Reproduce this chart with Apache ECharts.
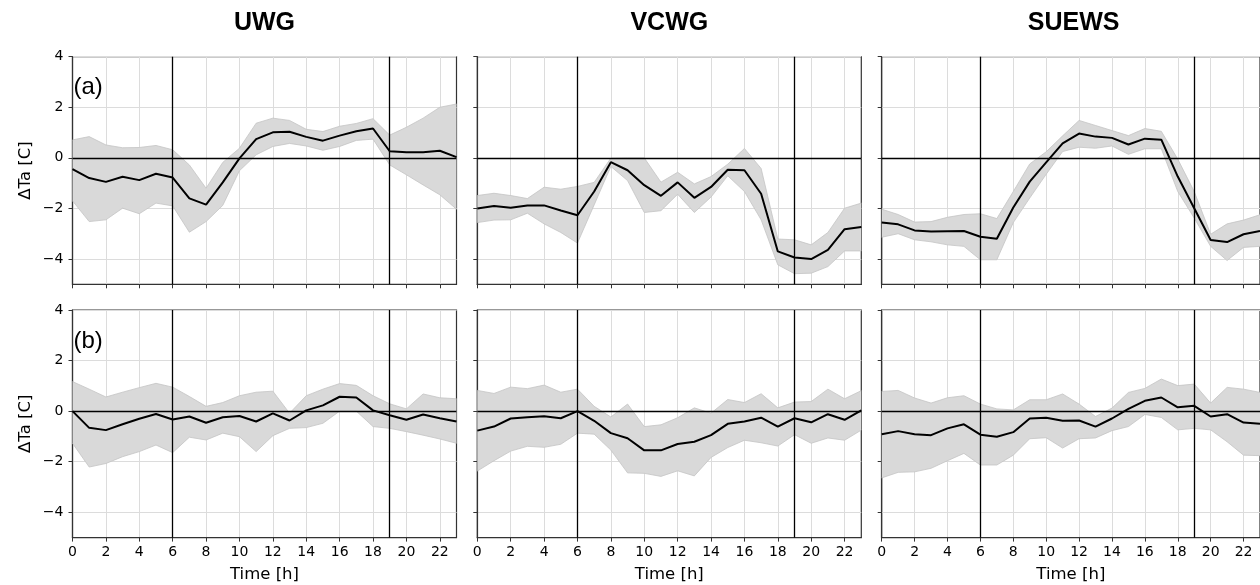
<!DOCTYPE html>
<html>
<head>
<meta charset="utf-8">
<title>ΔTa diurnal cycle</title>
<script src="https://cdn.jsdelivr.net/npm/echarts@6/dist/echarts.min.js"></script>
<style>
  html, body { margin: 0; padding: 0; background: #fff; }
  #chart { width: 1260px; height: 585px; }
</style>
</head>
<body>
<div id="chart"></div>
<script>
// hours of the day
const hours = ['0','1','2','3','4','5','6','7','8','9','10','11','12','13','14','15','16','17','18','19','20','21','22','23']
const models = ['UWG', 'VCWG', 'SUEWS']
const rowTags = ['(a)', '(b)']
const yTicks = [-4, -2, 0, 2, 4]
const sunrise = '6'
const sunset = '19'

// row (a)
const uwgA_mid = [-0.45,-0.80,-0.95,-0.75,-0.88,-0.63,-0.78,-1.60,-1.85,-0.97,-0.02,0.74,1.01,1.03,0.83,0.68,0.88,1.05,1.16,0.26,0.22,0.22,0.28,0.03]
const uwgA_low = [-1.70,-2.52,-2.45,-1.99,-2.21,-1.79,-1.90,-2.94,-2.52,-1.88,-0.51,0.12,0.45,0.57,0.47,0.30,0.45,0.69,0.74,-0.28,-0.67,-1.07,-1.46,-2.03]
const uwgA_high = [0.71,0.84,0.51,0.40,0.41,0.49,0.32,-0.28,-1.20,-0.18,0.38,1.37,1.57,1.48,1.13,1.04,1.25,1.36,1.55,0.90,1.21,1.57,2.00,2.13]

const vcwgA_mid = [-2.00,-1.90,-1.97,-1.88,-1.88,-2.08,-2.27,-1.33,-0.17,-0.49,-1.08,-1.50,-0.97,-1.58,-1.15,-0.47,-0.49,-1.42,-3.70,-3.94,-4.00,-3.64,-2.82,-2.73]
const vcwgA_low = [-2.56,-2.46,-2.45,-2.19,-2.61,-2.95,-3.37,-1.86,-0.34,-0.90,-2.16,-2.09,-1.44,-2.16,-1.55,-0.71,-1.33,-2.45,-4.23,-4.58,-4.56,-4.30,-3.68,-3.68]
const vcwgA_high = [-1.49,-1.40,-1.49,-1.61,-1.16,-1.24,-1.13,-0.97,-0.01,0.00,0.00,-0.96,-0.57,-1.03,-0.74,-0.25,0.37,-0.42,-3.21,-3.24,-3.44,-2.95,-1.99,-1.79]

const suewsA_mid = [-2.56,-2.63,-2.87,-2.91,-2.90,-2.89,-3.12,-3.20,-1.96,-0.94,-0.18,0.57,0.96,0.84,0.79,0.53,0.76,0.72,-0.74,-1.99,-3.25,-3.33,-3.02,-2.89]
const suewsA_low = [-3.14,-3.00,-3.24,-3.32,-3.44,-3.50,-4.03,-4.03,-2.56,-1.59,-0.65,0.25,0.42,0.38,0.47,0.14,0.36,0.36,-1.33,-2.38,-3.50,-4.06,-3.54,-3.50]
const suewsA_high = [-2.03,-2.24,-2.54,-2.52,-2.35,-2.24,-2.21,-2.40,-1.33,-0.24,0.24,0.87,1.48,1.28,1.08,0.88,1.16,1.05,-0.05,-1.33,-3.02,-2.61,-2.46,-2.25]

// row (b)
const uwgB_mid = [0.00,-0.66,-0.75,-0.52,-0.30,-0.11,-0.33,-0.21,-0.46,-0.24,-0.19,-0.41,-0.09,-0.37,0.03,0.23,0.57,0.54,0.03,-0.16,-0.34,-0.13,-0.28,-0.41]
const uwgB_low = [-1.27,-2.21,-2.07,-1.80,-1.60,-1.34,-1.64,-1.03,-1.14,-0.87,-1.01,-1.60,-0.97,-0.68,-0.65,-0.48,0.00,0.00,-0.61,-0.68,-0.81,-0.95,-1.10,-1.27]
const uwgB_high = [1.17,0.87,0.56,0.75,0.93,1.10,0.95,0.58,0.19,0.34,0.61,0.75,0.79,-0.08,0.61,0.87,1.09,1.02,0.61,0.29,0.09,0.68,0.53,0.49]

const vcwgB_mid = [-0.77,-0.61,-0.29,-0.24,-0.20,-0.28,0.00,-0.38,-0.87,-1.07,-1.55,-1.55,-1.30,-1.21,-0.95,-0.50,-0.41,-0.26,-0.61,-0.28,-0.44,-0.12,-0.34,0.03]
const vcwgB_low = [-2.37,-1.96,-1.58,-1.39,-1.43,-1.31,-0.87,-0.91,-1.54,-2.44,-2.46,-2.58,-2.36,-2.56,-1.83,-1.44,-1.15,-1.25,-1.38,-0.93,-1.27,-1.06,-1.15,-0.75]
const vcwgB_high = [0.82,0.70,0.95,0.89,1.03,0.75,0.87,0.19,-0.23,0.28,-0.61,-0.54,-0.26,0.13,-0.08,0.46,0.34,0.69,0.13,0.36,0.38,0.87,0.49,0.81]

const suewsB_mid = [-0.91,-0.79,-0.91,-0.95,-0.68,-0.52,-0.93,-1.01,-0.83,-0.29,-0.26,-0.38,-0.37,-0.61,-0.29,0.09,0.41,0.54,0.15,0.21,-0.21,-0.12,-0.45,-0.50]
const suewsB_low = [-2.64,-2.42,-2.40,-2.26,-1.96,-1.67,-2.13,-2.13,-1.74,-1.09,-1.05,-1.46,-1.09,-1.06,-0.77,-0.61,-0.13,-0.25,-0.74,-0.68,-0.74,-1.21,-1.74,-1.76]
const suewsB_high = [0.78,0.82,0.52,0.32,0.53,0.61,0.28,0.09,0.05,0.45,0.45,0.68,0.28,-0.21,0.12,0.74,0.90,1.27,1.01,1.07,0.32,0.94,0.87,0.74]

// panels in row-major order
const panels = [
  { mid: uwgA_mid, low: uwgA_low, high: uwgA_high },
  { mid: vcwgA_mid, low: vcwgA_low, high: vcwgA_high },
  { mid: suewsA_mid, low: suewsA_low, high: suewsA_high },
  { mid: uwgB_mid, low: uwgB_low, high: uwgB_high },
  { mid: vcwgB_mid, low: vcwgB_low, high: vcwgB_high },
  { mid: suewsB_mid, low: suewsB_low, high: suewsB_high }
]

const colLeft = [72.5, 477.3, 881.7]
const panelW = 384
const rowTop = [56.7, 310]
const panelH = 227.6

const tickFont = 'DejaVu Sans'
const axisColor = '#333'

const grids = []
const xAxes = []
const yAxes = []
const series = []

panels.forEach((p, i) => {
  const row = Math.floor(i / 3)
  const col = i % 3
  grids.push({
    left: colLeft[col], top: rowTop[row], width: panelW, height: panelH,
    show: true, borderColor: axisColor, borderWidth: 1.2, backgroundColor: 'transparent'
  })
  xAxes.push({
    type: 'category', gridIndex: i, data: hours, boundaryGap: false,
    name: row === 1 ? 'Time [h]' : '',
    nameLocation: 'middle', nameGap: 29,
    nameTextStyle: { fontFamily: tickFont, fontSize: 16.5, color: '#000' },
    axisLine: { show: true, onZero: false, lineStyle: { color: axisColor, width: 1.2 } },
    axisTick: { show: true, length: 4, interval: 1, alignWithLabel: true, lineStyle: { color: axisColor, width: 1 } },
    axisLabel: { show: row === 1, interval: 1, margin: 8, fontFamily: tickFont, fontSize: 14, color: '#000' },
    splitLine: { show: true, interval: 1, lineStyle: { color: '#dcdcdc', width: 1 } }
  })
  yAxes.push({
    type: 'value', gridIndex: i, min: -5, max: 4,
    name: col === 0 ? 'ΔTa [C]' : '',
    nameLocation: 'middle', nameGap: 38,
    nameTextStyle: { fontFamily: tickFont, fontSize: 16.5, color: '#000' },
    axisLine: { show: true, onZero: false, lineStyle: { color: axisColor, width: 1.2 } },
    axisTick: { show: true, length: 4, customValues: yTicks, lineStyle: { color: axisColor, width: 1 } },
    axisLabel: {
      show: col === 0, customValues: yTicks, margin: 9, fontFamily: tickFont, fontSize: 14, color: '#000',
      formatter: v => (v < 0 ? '\u2212' + Math.abs(v) : String(v))
    },
    splitLine: { show: true, lineStyle: { color: '#dcdcdc', width: 1 } }
  })

  const stackId = 'band' + i
  // lower edge of the spread band
  series.push({
    type: 'line', xAxisIndex: i, yAxisIndex: i,
    data: p.low,
    stack: stackId, stackStrategy: 'all',
    symbol: 'none', silent: true,
    lineStyle: { color: '#c4c4c4', width: 0.8 },
    z: 1
  })
  // band thickness stacked on the lower edge
  series.push({
    type: 'line', xAxisIndex: i, yAxisIndex: i,
    data: p.high.map((v, k) => +(v - p.low[k]).toFixed(3)),
    stack: stackId, stackStrategy: 'all',
    symbol: 'none', silent: true,
    lineStyle: { color: '#c4c4c4', width: 0.8 },
    areaStyle: { color: '#d9d9d9', opacity: 1 },
    z: 1
  })
  // median line + reference lines
  series.push({
    type: 'line', xAxisIndex: i, yAxisIndex: i,
    data: p.mid,
    symbol: 'none', silent: true,
    lineStyle: { color: '#000', width: 2 },
    z: 3,
    markLine: {
      silent: true, symbol: 'none', animation: false,
      label: { show: false },
      lineStyle: { color: '#000', width: 1.3, type: 'solid' },
      data: [{ xAxis: sunrise }, { xAxis: sunset }, { yAxis: 0 }]
    }
  })
})

const chart = echarts.init(document.getElementById('chart'), null, { renderer: 'canvas' })

chart.setOption({
  animation: false,
  backgroundColor: '#fff',
  title: models.map((m, c) => ({
    text: m,
    left: colLeft[c] + panelW / 2,
    top: 11,
    padding: 0,
    textAlign: 'center',
    textStyle: { fontFamily: 'Liberation Sans, Arial, sans-serif', fontWeight: 'bold', fontSize: 25, color: '#000' }
  })),
  graphic: rowTags.map((t, r) => ({
    type: 'text',
    left: colLeft[0] + 1,
    top: rowTop[r] + 19,
    z: 10,
    style: { text: t, font: '24px "Liberation Sans", Arial, sans-serif', fill: '#000' }
  })),
  grid: grids,
  xAxis: xAxes,
  yAxis: yAxes,
  series: series
})

window.addEventListener('resize', () => chart.resize())
</script>
</body>
</html>
